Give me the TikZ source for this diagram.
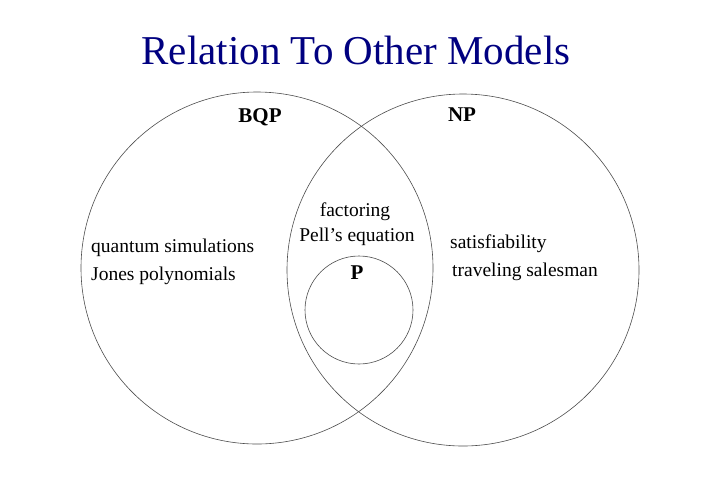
\documentclass[tikz,border=0pt]{standalone}
\usepackage{fontspec}
\setmainfont{Liberation Serif}
\definecolor{titleblue}{RGB}{0,0,128}
\begin{document}
\begin{tikzpicture}[x=1pt,y=-1pt,
  circ/.style={draw=black!70,line width=0.6pt},
  lab/.style={font=\fontsize{19.5}{22}\selectfont,inner sep=0pt},
  blab/.style={font=\fontsize{21}{24}\selectfont\bfseries,inner sep=0pt}]
\useasboundingbox (0,0) rectangle (720,480);
\node[font=\fontsize{41}{45}\selectfont,text=titleblue] (title) at (356,50) {Relation To Other Models};
\node[circ,circle,minimum size=352pt,inner sep=0pt] (bqp) at (257,268) {};
\node[circ,circle,minimum size=352pt,inner sep=0pt] (np) at (463,270) {};
\node[circ,circle,minimum size=108pt,inner sep=0pt] (p) at (359,310) {};
\node[blab] (lbqp) at (260,117) {BQP};
\node[blab] (lnp) at (462,115) {NP};
\node[blab] (lp) at (357,273) {P};
\node[lab] (f) at (355,212) {factoring};
\node[lab] (pell) at (357,237) {Pell's equation};
\node[lab,anchor=west] (qs) at (91,248) {quantum simulations};
\node[lab,anchor=west] (jp) at (91,276) {Jones polynomials};
\node[lab,anchor=west] (sat) at (450,244) {satisfiability};
\node[lab,anchor=west] (ts) at (452,272) {traveling salesman};
\end{tikzpicture}
\end{document}
